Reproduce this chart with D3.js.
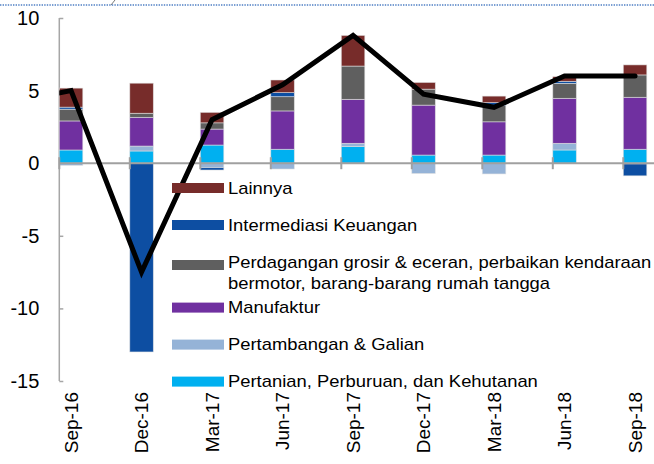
<!DOCTYPE html>
<html>
<head>
<meta charset="utf-8">
<script src="https://cdn.jsdelivr.net/npm/d3@7"></script>
<style>
  body { margin: 0; background: #fff; }
  text { font-family: "Liberation Sans", Arial, sans-serif; fill: #000; }
</style>
</head>
<body>
<svg id="chart" width="654" height="464"></svg>
<script>
// quarters shown on the axis
const categories = ["Sep-16", "Dec-16", "Mar-17", "Jun-17", "Sep-17", "Dec-17", "Mar-18", "Jun-18", "Sep-18"];

// sector contributions (percentage points)
const pertanian    = [0.91, 0.84, 1.25, 0.96, 1.14, 0.56, 0.56, 0.91, 0.96];
const pertambangan = [-0.15, 0.34, -0.31, -0.40, 0.23, -0.71, -0.74, 0.46, -0.05];
const manufaktur   = [2.00, 1.98, 1.10, 2.64, 3.03, 3.44, 2.29, 3.10, 3.58];
const perdagangan  = [0.81, 0.28, 0.43, 0.98, 2.29, 1.10, 1.12, 1.03, 1.54];
const intermediasi = [0.14, -13.0, -0.16, 0.28, 0, 0, 0.20, 0.14, -0.82];
const lainnya      = [1.31, 2.07, 0.72, 0.87, 2.11, 0.46, 0.45, 0.32, 0.69];

// total growth line; the line also carries the quarter before Sep-16 (clipped at the axis)
const totalLabels = ["Jun-16"].concat(categories);
const totalValues = [4.05, 5.0, -7.5, 3.0, 5.4, 8.8, 4.75, 3.85, 6.0, 6.0];

const yTicks = [10, 5, 0, -5, -10, -15];

const seriesNames = [
  "Pertanian, Perburuan, dan Kehutanan",
  "Pertambangan & Galian",
  "Manufaktur",
  "Perdagangan grosir & eceran, perbaikan kendaraan bermotor, barang-barang rumah tangga",
  "Intermediasi Keuangan",
  "Lainnya"
];
const seriesValues = [pertanian, pertambangan, manufaktur, perdagangan, intermediasi, lainnya];
const seriesColors = ["#00b0f0", "#95b3d7", "#7030a0", "#5f5f5f", "#0d4ea2", "#772c2a"];
// legend order (top to bottom) and wrapped labels
const legendOrder = [5, 4, 3, 2, 1, 0];
const legendLines = {
  3: ["Perdagangan grosir & eceran, perbaikan kendaraan", "bermotor, barang-barang rumah tangga"]
};

const svg = d3.select("#chart");

const left = 59.3, step = 70.5;
const x = d3.scaleLinear().domain([0, categories.length]).range([left, left + step * categories.length]);
const barW = step / 3;
const y = d3.scaleLinear().domain([-15, 10]).range([381, 18]);

// table for stacking
const table = categories.map((c, i) => {
  const row = { cat: c, i: i };
  seriesNames.forEach((n, k) => row[n] = seriesValues[k][i]);
  return row;
});
const stacked = d3.stack().keys(seriesNames).offset(d3.stackOffsetDiverging)(table);

// dotted frame line at top
svg.append("line")
  .attr("x1", 0).attr("x2", 654).attr("y1", 5).attr("y2", 5)
  .style("stroke", "#4f7fc4").style("stroke-width", 1.4)
  .style("stroke-dasharray", "1.4,1.2");
svg.append("line")
  .attr("x1", 115).attr("y1", 0).attr("x2", 111).attr("y2", 5)
  .style("stroke", "#777").style("stroke-width", 1);

// y axis
const yAxis = svg.append("g")
  .attr("transform", `translate(${left},0)`)
  .call(d3.axisLeft(y).tickValues(yTicks).tickSize(-4).tickPadding(20).tickFormat(d => String(d)));
yAxis.select(".domain").remove();
yAxis.selectAll(".tick line").style("stroke", "#a6a6a6").style("stroke-width", 1.5);
yAxis.selectAll(".tick text")
  .style("font-size", "20px")
  .style("font-family", "Liberation Sans, Arial, sans-serif");
svg.append("line")
  .attr("x1", left).attr("x2", left).attr("y1", y(10)).attr("y2", y(-15))
  .style("stroke", "#a6a6a6").style("stroke-width", 1.5);

// bars
svg.append("g")
  .selectAll("g")
  .data(stacked)
  .join("g")
  .style("fill", (d, k) => seriesColors[k])
  .selectAll("rect")
  .data(d => d)
  .join("rect")
  .attr("x", d => x(d.data.i))
  .attr("width", barW)
  .attr("y", d => y(Math.max(d[0], d[1])))
  .attr("height", d => Math.abs(y(d[0]) - y(d[1])))
  .style("stroke", "rgba(225,225,225,0.8)")
  .style("stroke-width", 0.7);

// x axis (zero line) with category ticks
svg.append("line")
  .attr("x1", left).attr("x2", 654).attr("y1", y(0)).attr("y2", y(0))
  .style("stroke", "#a0a0a0").style("stroke-width", 2);
svg.append("g")
  .selectAll("line")
  .data(categories)
  .join("line")
  .attr("x1", (d, i) => x(i)).attr("x2", (d, i) => x(i))
  .attr("y1", y(0) - 6).attr("y2", y(0) + 6)
  .style("stroke", "#a0a0a0").style("stroke-width", 2);

// category labels
svg.append("g")
  .selectAll("text")
  .data(categories)
  .join("text")
  .attr("transform", (d, i) => `translate(${x(i) + barW / 2},392) rotate(-90)`)
  .attr("text-anchor", "end")
  .attr("dy", "0.36em")
  .style("font-size", "19px")
  .text(d => d);

// total line
svg.append("clipPath").attr("id", "plotClip")
  .append("rect").attr("x", left).attr("y", 0).attr("width", 654 - left).attr("height", 464);
const line = d3.line()
  .x((d, i) => x(i - 1) + barW / 2)
  .y(d => y(d));
svg.append("path")
  .datum(totalValues)
  .attr("clip-path", "url(#plotClip)")
  .attr("d", line)
  .style("fill", "none")
  .style("stroke", "#000")
  .style("stroke-width", 5)
  .style("stroke-linejoin", "miter")
  .style("stroke-linecap", "round");

// legend
const legend = svg.append("g");
let ly = 188;
legendOrder.forEach(k => {
  const lines = legendLines[k] || [seriesNames[k]];
  legend.append("rect")
    .attr("x", 172).attr("y", ly - 5 + (lines.length - 1) * 3)
    .attr("width", 52).attr("height", 10)
    .style("fill", seriesColors[k]);
  lines.forEach((t, j) => {
    legend.append("text")
      .attr("transform", `translate(228,${ly + j * 21.6}) scale(1.15,1)`)
      .attr("dy", "0.36em")
      .style("font-size", "16px")
      .text(t);
  });
  ly += 37 + (lines.length - 1) * 8.6;
});
</script>
</body>
</html>
